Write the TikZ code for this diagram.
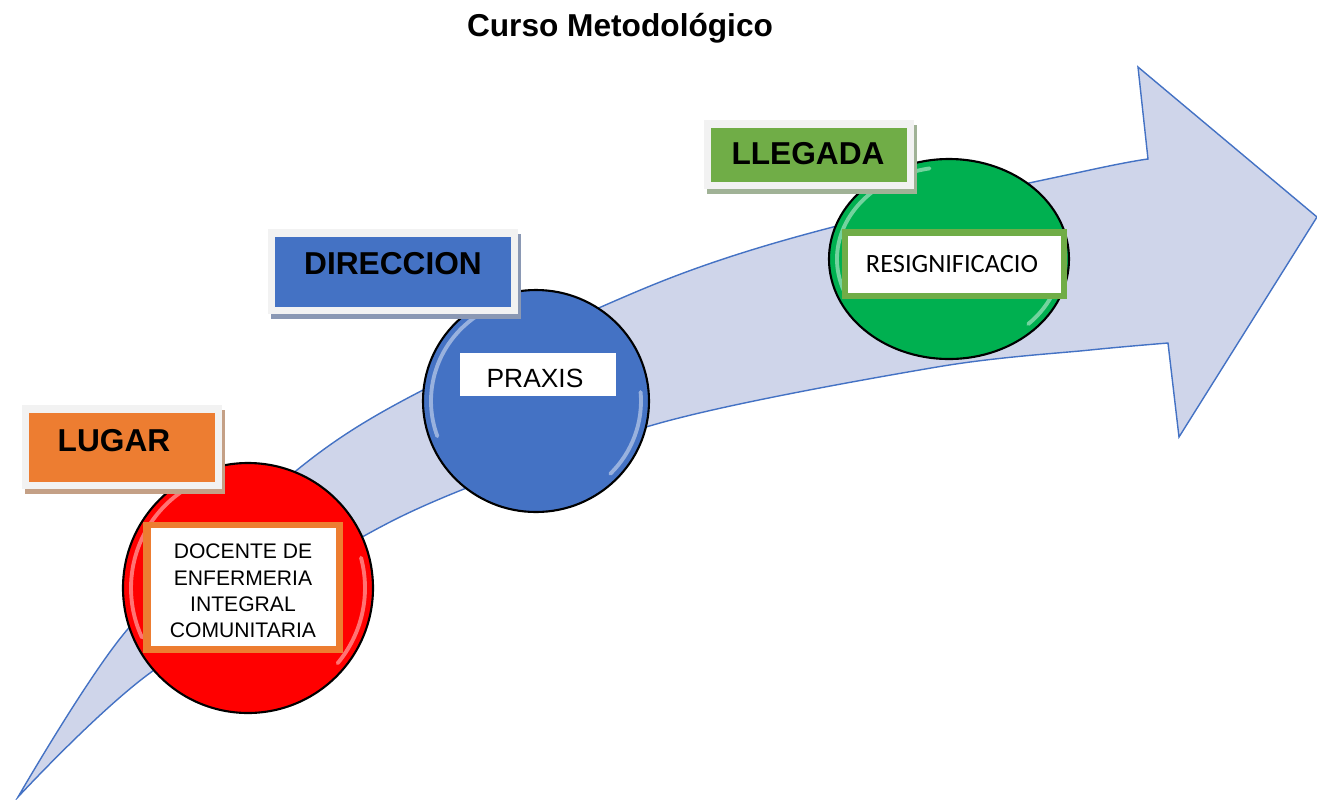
\documentclass[tikz,border=0pt]{standalone}
\usepackage{fontspec}
\setmainfont{Liberation Sans}
\newfontfamily\calib{Carlito}
\usetikzlibrary{calc}

\definecolor{arrowfill}{RGB}{207,213,234}
\definecolor{arrowline}{RGB}{68,114,196}
\definecolor{tagrim}{RGB}{242,242,242}
\definecolor{tagorange}{RGB}{237,125,49}
\definecolor{tagblue}{RGB}{68,114,196}
\definecolor{taggreen}{RGB}{112,173,71}
\definecolor{shadeorange}{RGB}{196,160,134}
\definecolor{shadeblue}{RGB}{138,152,180}
\definecolor{shadegreen}{RGB}{160,178,150}
\definecolor{ballred}{RGB}{255,0,0}
\definecolor{ballgreen}{RGB}{0,176,80}

\tikzset{
  arrowbody/.style={draw=arrowline, fill=arrowfill, line width=0.4pt, line join=miter},
  ball/.style={draw=black, line width=0.6pt},
  glintline/.style={draw=white, line width=1.1pt, opacity=0.45, line cap=round},
  tagtext/.style={inner sep=0pt, font=\fontsize{9}{11}\selectfont\bfseries},
  intext/.style={inner sep=0pt, font=\fontsize{7.5}{9}\selectfont},
}

% label box: corners, fill, shadow
\def\tagbox(#1,#2)(#3,#4)#5#6{%
  \fill[#6] (#1+3,#2+5) rectangle (#3+3,#4+5);
  \fill[tagrim] (#1,#2) rectangle (#3,#4);
  \fill[#5] (#1+7,#2+8) rectangle (#3-7,#4-7);}
% white shine on the rim of a ball
\def\glint(#1)(#2:#3:#4:#5){\draw[glintline] ($(#1)+({#4*cos(#2)},{#5*sin(#2)})$) arc[start angle=#2, end angle=#3, x radius=#4, y radius=#5];}

\begin{document}
\begin{tikzpicture}[x=0.01cm,y=-0.01cm]
\useasboundingbox (0,0) rectangle (1317,799);

\node[font=\fontsize{9}{11}\selectfont\bfseries, inner sep=0pt] (title) at (620,28) {Curso Metodológico};

% big curved arrow
\draw[arrowbody] plot[smooth] coordinates {(18,797) (127,630) (297,470) (423,390) (660,282) (833,227) (1090,170) (1148,159)}
  -- (1138,67) -- (1317,217) -- (1179,437)
  -- plot[smooth] coordinates {(1168,343) (1090,350) (937,367) (660,423) (400,517) (150,673) (18,797)} -- cycle;

% balls
\draw[ball, fill=ballred] (248,588) circle[radius=125];
\glint(248,588)(-105:-205:117:117)
\glint(248,588)(-15:40:117:117)
\draw[ball, fill=tagblue] (536,401) ellipse[x radius=113, y radius=111];
\glint(536,401)(-105:-200:105:103)
\glint(536,401)(-5:45:105:103)
\draw[ball, fill=ballgreen] (949,259) ellipse[x radius=120, y radius=100];
\glint(949,259)(-100:-200:112:92)
\glint(949,259)(-5:45:112:92)

% inner boxes
\fill[tagorange] (143,522) rectangle (343,653);
\fill[white] (151,528) rectangle (336,646);
\begin{scope}
  \clip (151,528) rectangle (336,637);
  \node[intext, align=center, font=\fontsize{6}{7.5}\selectfont] (docente) at (243,591) {DOCENTE DE\\ENFERMERIA\\INTEGRAL\\COMUNITARIA};
\end{scope}

\fill[white] (460,353) rectangle (616,396);
\node[intext] (praxis) at (535,378) {PRAXIS};

\fill[taggreen] (842,229) rectangle (1067,299);
\fill[white] (848,236) rectangle (1061,293);
\node[intext, font=\fontsize{7.5}{9}\calib] (resig) at (952,264) {RESIGNIFICACIO};

% labels
\tagbox(22,405)(222,489){tagorange}{shadeorange}
\node[tagtext] (lugar) at (114,441) {LUGAR};
\tagbox(268,229)(518,314){tagblue}{shadeblue}
\node[tagtext] (direccion) at (393,264) {DIRECCION};
\tagbox(704,120)(914,189){taggreen}{shadegreen}
\node[tagtext] (llegada) at (808,154) {LLEGADA};
\end{tikzpicture}
\end{document}
